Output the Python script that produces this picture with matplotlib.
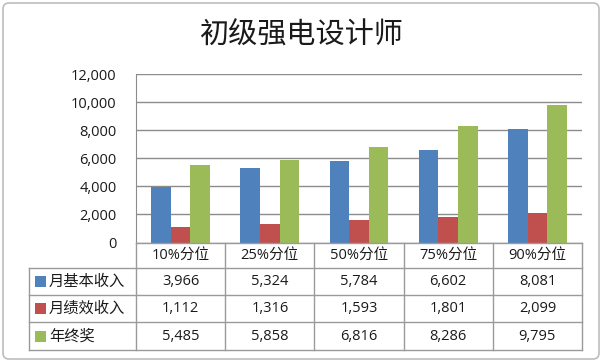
import matplotlib
matplotlib.use("Agg")
import matplotlib.pyplot as plt
from matplotlib.patches import FancyBboxPatch, Rectangle
import numpy as np

plt.rcParams['font.family'] = ['Open Sans', 'Noto Sans CJK SC', 'DejaVu Sans']

title = "初级强电设计师"
categories = ["10%分位", "25%分位", "50%分位", "75%分位", "90%分位"]
series_names = ["月基本收入", "月绩效收入", "年终奖"]
base_income = [3966, 5324, 5784, 6602, 8081]
perf_income = [1112, 1316, 1593, 1801, 2099]
year_bonus = [5485, 5858, 6816, 8286, 9795]
yticks = [0, 2000, 4000, 6000, 8000, 10000, 12000]
colors = ["#4F81BD", "#C0504D", "#9BBB59"]

series = [base_income, perf_income, year_bonus]

W, H = 602, 362
fig = plt.figure(figsize=(W / 100, H / 100), dpi=100)

# layout in pixels
ax_left, ax_right, ax_top, ax_bottom = 136, 582, 74, 242.5
tbl_left = 29
row_edges = [242.5, 268, 295, 322, 350]

ax = fig.add_axes([ax_left / W, 1 - ax_bottom / H, (ax_right - ax_left) / W, (ax_bottom - ax_top) / H])
x = np.arange(len(categories))
bw = 0.22
for i, (vals, c) in enumerate(zip(series, colors)):
    ax.bar(x + (i - 1) * bw, vals, width=bw, color=c, zorder=3, linewidth=0)
ax.set_xlim(-0.5, len(categories) - 0.5)
ax.set_ylim(0, 12000)
ax.set_yticks(yticks)
ax.set_yticklabels([f"{v:,}" for v in yticks], fontsize=10.5, color='#1a1a1a')
ax.tick_params(axis='y', length=0, pad=14)
ax.set_xticks([])
ax.grid(axis='y', color='#8c8c8c', linewidth=1, zorder=0)
for s in ['top', 'right', 'bottom']:
    ax.spines[s].set_visible(False)
ax.spines['left'].set_color('#8c8c8c')

# overlay in pixel coords
ov = fig.add_axes([0, 0, 1, 1])
ov.set_xlim(0, W)
ov.set_ylim(H, 0)
ov.axis('off')
ov.patch.set_alpha(0)

ov.add_patch(FancyBboxPatch((3, 3), W - 6, H - 6, boxstyle="round,pad=0,rounding_size=6",
                            fill=False, edgecolor='#bdbdbd', linewidth=1.2))

ov.text(W / 2, 36, title, ha='center', va='center', fontsize=21, color='#1a1a1a',
        family=['Noto Sans CJK SC'])

lc = '#9a9a9a'
ncat = len(categories)
colw = (ax_right - ax_left) / ncat
col_edges = [ax_left + k * colw for k in range(ncat + 1)]

# horizontal lines
ov.plot([ax_left, ax_right], [row_edges[0]] * 2, color=lc, lw=1)
for yy in row_edges[1:]:
    ov.plot([tbl_left, ax_right], [yy] * 2, color=lc, lw=1)
# vertical lines
ov.plot([tbl_left, tbl_left], [row_edges[1], row_edges[-1]], color=lc, lw=1)
for xx in col_edges:
    ov.plot([xx, xx], [row_edges[0], row_edges[-1]], color=lc, lw=1)

# header
for k, cat in enumerate(categories):
    ov.text((col_edges[k] + col_edges[k + 1]) / 2, (row_edges[0] + row_edges[1]) / 2 + 0.5, cat,
            ha='center', va='center', fontsize=10.5, color='#1a1a1a')

# rows
for r, (name, vals, c) in enumerate(zip(series_names, series, colors)):
    yc = (row_edges[r + 1] + row_edges[r + 2]) / 2
    ov.add_patch(Rectangle((35, yc - 5.5), 11, 11, color=c, lw=0))
    ov.text(49, yc, name, ha='left', va='center', fontsize=11, color='#1a1a1a',
            family=['Noto Sans CJK SC'])
    for k, v in enumerate(vals):
        ov.text((col_edges[k] + col_edges[k + 1]) / 2, yc, f"{v:,}", ha='center', va='center',
                fontsize=10.5, color='#1a1a1a')

fig.savefig("out.png", dpi=100)
